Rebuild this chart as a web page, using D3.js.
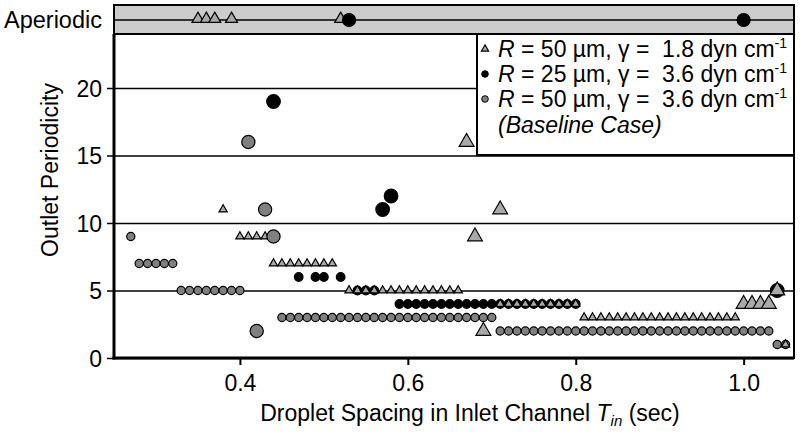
<!DOCTYPE html>
<html>
<head>
<meta charset="utf-8">
<script src="https://cdn.jsdelivr.net/npm/d3@7"></script>
<style>
  body { margin: 0; background: #fff; }
  text { font-family: 'Liberation Sans', Arial, sans-serif; fill: #000; }
</style>
</head>
<body>
<div id="chart"></div>
<script>
// --- data (x = Tin in sec, y = outlet periodicity) ---
// R = 50 um, gamma = 1.8 (triangles)
const triRows = [
  [0.38, 11], [0.40, 9], [0.41, 9], [0.42, 9], [0.43, 9],
  [0.44, 7], [0.45, 7], [0.46, 7], [0.47, 7], [0.48, 7], [0.49, 7], [0.50, 7], [0.51, 7],
  [0.53, 5], [0.54, 5], [0.55, 5], [0.56, 5], [0.57, 5], [0.58, 5], [0.59, 5], [0.60, 5],
  [0.61, 5], [0.62, 5], [0.63, 5], [0.64, 5], [0.65, 5], [0.66, 5],
  [0.71, 4], [0.72, 4], [0.73, 4], [0.74, 4], [0.75, 4], [0.76, 4], [0.77, 4], [0.78, 4],
  [0.79, 4], [0.80, 4],
  [0.81, 3], [0.82, 3], [0.83, 3], [0.84, 3], [0.85, 3], [0.86, 3], [0.87, 3], [0.88, 3],
  [0.89, 3], [0.90, 3], [0.91, 3], [0.92, 3], [0.93, 3], [0.94, 3], [0.95, 3], [0.96, 3],
  [0.97, 3], [0.98, 3], [0.99, 3],
  [1.05, 1]
]
const triSpots = [
  [0.67, 16], [0.71, 11], [0.68, 9], [0.69, 2],
  [1.00, 4], [1.01, 4], [1.02, 4], [1.03, 4], [1.04, 5]
]
const triAperiodic = [0.35, 0.36, 0.37, 0.39, 0.52]

// R = 25 um, gamma = 3.6 (black circles)
const blackRows = [
  [0.47, 6], [0.49, 6], [0.50, 6], [0.52, 6],
  [0.54, 5], [0.55, 5], [0.56, 5],
  [0.59, 4], [0.60, 4], [0.61, 4], [0.62, 4], [0.63, 4], [0.64, 4], [0.65, 4], [0.66, 4],
  [0.67, 4], [0.68, 4], [0.69, 4], [0.70, 4], [0.71, 4], [0.72, 4], [0.73, 4], [0.74, 4],
  [0.75, 4], [0.76, 4], [0.77, 4], [0.78, 4], [0.79, 4], [0.80, 4]
]
const blackSpots = [[0.44, 19], [0.57, 11], [0.58, 12], [1.04, 5]]
const blackAperiodic = [0.53, 1.00]

// R = 50 um, gamma = 3.6, baseline (gray circles)
const grayRows = [
  [0.27, 9],
  [0.28, 7], [0.29, 7], [0.30, 7], [0.31, 7], [0.32, 7],
  [0.33, 5], [0.34, 5], [0.35, 5], [0.36, 5], [0.37, 5], [0.38, 5], [0.39, 5], [0.40, 5],
  [0.45, 3], [0.46, 3], [0.47, 3], [0.48, 3], [0.49, 3], [0.50, 3], [0.51, 3], [0.52, 3],
  [0.53, 3], [0.54, 3], [0.55, 3], [0.56, 3], [0.57, 3], [0.58, 3], [0.59, 3], [0.60, 3],
  [0.61, 3], [0.62, 3], [0.63, 3], [0.64, 3], [0.65, 3], [0.66, 3], [0.67, 3], [0.68, 3],
  [0.69, 3], [0.70, 3],
  [0.71, 2], [0.72, 2], [0.73, 2], [0.74, 2], [0.75, 2], [0.76, 2], [0.77, 2], [0.78, 2],
  [0.79, 2], [0.80, 2], [0.81, 2], [0.82, 2], [0.83, 2], [0.84, 2], [0.85, 2], [0.86, 2],
  [0.87, 2], [0.88, 2], [0.89, 2], [0.90, 2], [0.91, 2], [0.92, 2], [0.93, 2], [0.94, 2],
  [0.95, 2], [0.96, 2], [0.97, 2], [0.98, 2], [0.99, 2], [1.00, 2], [1.01, 2], [1.02, 2],
  [1.03, 2],
  [1.04, 1], [1.05, 1]
]
const graySpots = [[0.41, 16], [0.43, 11], [0.44, 9], [0.42, 2]]

const xTicks = [0.4, 0.6, 0.8, 1.0]
const yTicks = [0, 5, 10, 15, 20]

// --- layout ---
const W = 800
const H = 433
const plotLeft = 114
const plotRight = 794
const plotTop = 34
const plotBottom = 358
const apTop = 5
const apMid = 20

const triFill = '#a9a9a9'
const grayFill = '#808080'

const x = d3.scaleLinear().domain([0.25, 1.06]).range([plotLeft, plotRight])
const y = d3.scaleLinear().domain([0, 24]).range([plotBottom, plotTop])

const svg = d3.select('#chart').append('svg')
  .attr('width', W)
  .attr('height', H)

// aperiodic band
svg.append('rect')
  .attr('x', plotLeft).attr('y', apTop)
  .attr('width', plotRight - plotLeft).attr('height', plotTop - apTop)
  .attr('fill', '#cccccc')
  .attr('stroke', '#000').attr('stroke-width', 2)
svg.append('line')
  .attr('x1', plotLeft).attr('x2', plotRight)
  .attr('y1', apMid).attr('y2', apMid)
  .attr('stroke', '#000').attr('stroke-width', 1.5)
svg.append('text')
  .attr('x', 4).attr('y', apMid + 8)
  .attr('font-size', 23.5)
  .text('Aperiodic')

// plot frame
svg.append('rect')
  .attr('x', plotLeft).attr('y', plotTop)
  .attr('width', plotRight - plotLeft).attr('height', plotBottom - plotTop)
  .attr('fill', 'none')
  .attr('stroke', '#000').attr('stroke-width', 2)

// gridlines + y ticks (one axis hung from the right edge)
const yGrid = svg.append('g')
  .attr('transform', `translate(${plotRight},0)`)
  .call(d3.axisLeft(y).tickValues(yTicks).tickSize(plotRight - plotLeft + 7).tickPadding(5))
yGrid.select('.domain').remove()
yGrid.selectAll('.tick line').attr('stroke', '#000').attr('stroke-width', 1.5)
yGrid.selectAll('.tick text')
  .attr('font-size', 23)
  .attr('font-family', "'Liberation Sans', Arial, sans-serif")
  .attr('dy', '0.36em')

// x axis
const xAxis = svg.append('g')
  .attr('transform', `translate(0,${plotBottom})`)
  .call(d3.axisBottom(x).tickValues(xTicks).tickFormat(d3.format('.1f')).tickSize(7).tickPadding(5))
xAxis.select('.domain').remove()
xAxis.selectAll('.tick line').attr('stroke', '#000').attr('stroke-width', 2)
xAxis.selectAll('.tick text')
  .attr('font-size', 23)
  .attr('font-family', "'Liberation Sans', Arial, sans-serif")
  .attr('dy', '0.9em')

// heavy axis lines
svg.append('line')
  .attr('x1', plotLeft).attr('x2', plotLeft).attr('y1', plotTop).attr('y2', plotBottom + 1.5)
  .attr('stroke', '#000').attr('stroke-width', 3)
svg.append('line')
  .attr('x1', plotLeft - 1.5).attr('x2', plotRight).attr('y1', plotBottom).attr('y2', plotBottom)
  .attr('stroke', '#000').attr('stroke-width', 3)

// axis titles
const xt = svg.append('text')
  .attr('x', 470).attr('y', 421)
  .attr('text-anchor', 'middle')
  .attr('font-size', 23)
xt.append('tspan').text('Droplet Spacing in Inlet Channel ')
xt.append('tspan').attr('font-style', 'italic').text('T')
xt.append('tspan').attr('font-style', 'italic').attr('font-size', 15).attr('dy', 5).text('in')
xt.append('tspan').attr('dy', -5).text(' (sec)')

svg.append('text')
  .attr('transform', `translate(58,${(plotTop + plotBottom) / 2 - 26}) rotate(-90)`)
  .attr('text-anchor', 'middle')
  .attr('font-size', 23)
  .text('Outlet Periodicity')

// legend
const lg = svg.append('g')
lg.append('rect')
  .attr('x', 477).attr('y', plotTop)
  .attr('width', plotRight - 477).attr('height', 155 - plotTop)
  .attr('fill', '#fff')
  .attr('stroke', '#000').attr('stroke-width', 2)

const legendRows = [
  { shape: 'tri', fill: triFill, r: '50', g: '1.8' },
  { shape: 'circ', fill: '#000', r: '25', g: '3.6' },
  { shape: 'circ', fill: grayFill, r: '50', g: '3.6' }
]
legendRows.forEach((d, i) => {
  const by = 57 + i * 25
  if (d.shape === 'tri') {
    lg.append('path')
      .attr('d', d3.symbol(d3.symbolTriangle, 22)())
      .attr('transform', `translate(485,${by - 8})`)
      .attr('fill', d.fill).attr('stroke', '#000').attr('stroke-width', 1.2)
  } else {
    lg.append('circle')
      .attr('cx', 485).attr('cy', by - 8).attr('r', 3.3)
      .attr('fill', d.fill).attr('stroke', '#000').attr('stroke-width', 1)
  }
  const t = lg.append('text')
    .attr('x', 498).attr('y', by)
    .attr('font-size', 23)
    .style('white-space', 'pre')
  t.append('tspan').attr('font-style', 'italic').text('R')
  t.append('tspan').text(` = ${d.r} \u00b5m, \u03b3 =  ${d.g} dyn cm`)
  t.append('tspan').attr('font-size', 14).attr('dy', -9).text('-1')
})
lg.append('text')
  .attr('x', 498).attr('y', 133)
  .attr('font-size', 23)
  .attr('font-style', 'italic')
  .text('(Baseline Case)')

// --- marks ---
const marks = svg.append('g')

function circles(data, r, fill, yOf) {
  marks.append('g')
    .selectAll('circle')
    .data(data)
    .enter()
    .append('circle')
    .attr('cx', (d) => x(d[0]))
    .attr('cy', yOf)
    .attr('r', r)
    .attr('fill', fill)
    .attr('stroke', '#000')
    .attr('stroke-width', 1.2)
}

function triangles(data, size, yOf) {
  marks.append('g')
    .selectAll('path')
    .data(data)
    .enter()
    .append('path')
    .attr('d', d3.symbol(d3.symbolTriangle, size)())
    .attr('transform', (d) => `translate(${x(d[0])},${yOf(d)})`)
    .attr('fill', triFill)
    .attr('stroke', '#000')
    .attr('stroke-width', 1.2)
}

const yv = (d) => y(d[1])

circles(grayRows, 4.1, grayFill, yv)
circles(blackRows, 4.3, '#000', yv)
triangles(triRows, 30, yv)
circles(graySpots, 6.6, grayFill, yv)
circles(blackSpots, 6.8, '#000', yv)
triangles(triSpots, 95, yv)

// aperiodic runs
triangles(triAperiodic.map((v) => [v]), 62, () => apMid - 1)
circles(blackAperiodic.map((v) => [v]), 6.5, '#000', () => apMid)
</script>
</body>
</html>
